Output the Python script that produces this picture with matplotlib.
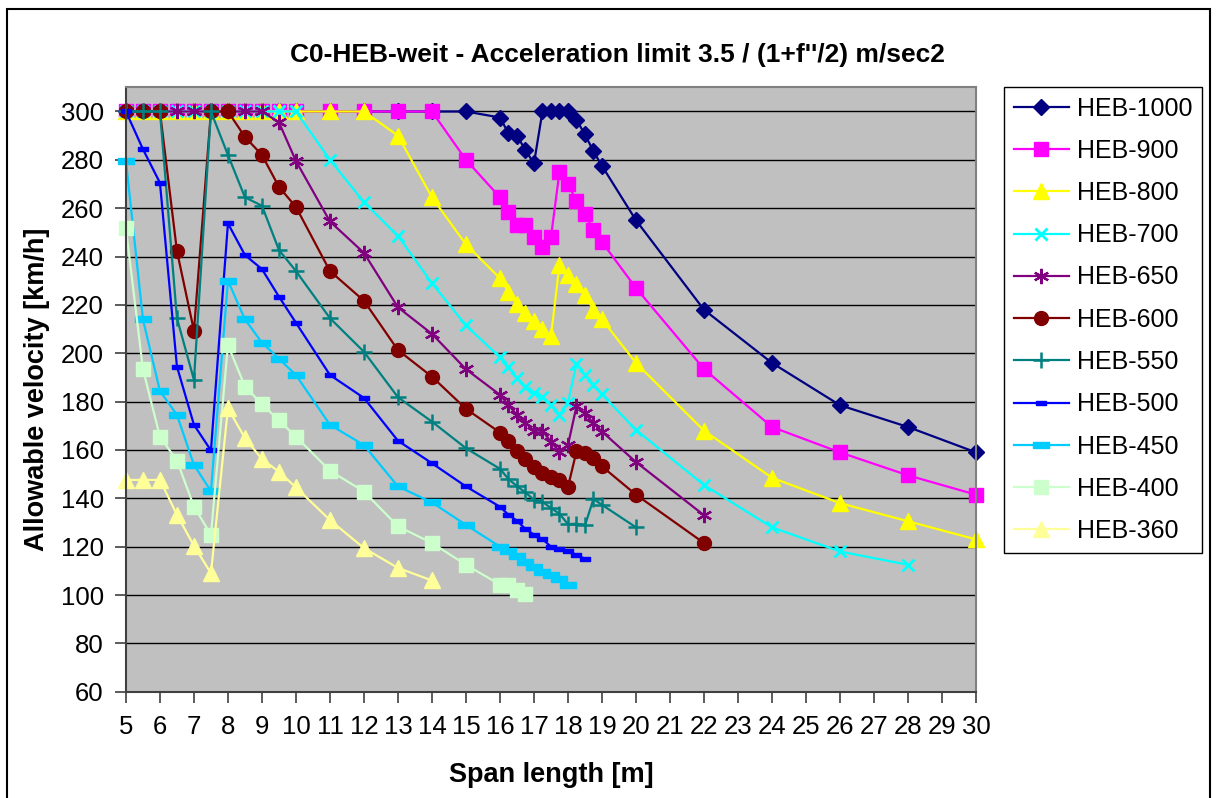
import matplotlib
matplotlib.use("Agg")
import matplotlib.pyplot as plt
from matplotlib.patches import Rectangle

plt.rcParams['font.family'] = ['Liberation Sans', 'DejaVu Sans']

# span lengths [m]
x_top = [5, 5.5, 6, 6.5, 7, 7.5, 8, 8.5, 9, 9.5, 10, 11, 12, 13, 14, 15]
x_fine = [16, 16.25, 16.5, 16.75, 17, 17.25, 17.5, 17.75, 18, 18.25, 18.5, 18.75, 19]
x_tail = [20, 22, 24, 26, 28, 30]

# allowable velocity [km/h] per profile
v_1000 = [300, 300, 300, 300, 300, 300, 300, 300, 300, 300, 300, 300, 300, 300, 300, 300,
          297.5, 291, 290, 284, 278.5, 300, 300, 300, 300, 296.5, 290.5, 283.5, 277.5,
          255, 218, 196, 178.5, 169.5, 159]
v_900 = [300, 300, 300, 300, 300, 300, 300, 300, 300, 300, 300, 300, 300, 300, 300, 280,
         264.5, 258.5, 253, 253, 248, 244, 248, 275, 270, 263, 257.5, 251, 246,
         227, 193.5, 169.5, 159, 149.5, 141.5]
v_800 = [300, 300, 300, 300, 300, 300, 300, 300, 300, 300, 300, 300, 300, 290, 264.5, 245,
         231, 225.5, 220.5, 216.5, 213.5, 210, 207, 236.5, 232.5, 228.5, 224, 218, 214,
         196, 168, 148.5, 138, 130.5, 123]
v_700 = [300, 300, 300, 300, 300, 300, 300, 300, 300, 300, 300, 280, 262.5, 248.5, 229, 211.5,
         198.3, 194.2, 189.7, 186.2, 183.7, 182, 178.6, 174.5, 179.6, 195.6, 191, 187, 183,
         168.3, 145.5, 128, 118, 112.5]
v_650 = [300, 300, 300, 300, 300, 300, 300, 300, 300, 295.5, 279.5, 254.5, 241.5, 219, 208, 193.4,
         182.8, 178.6, 174.5, 171.2, 168, 168, 163.3, 159.3, 162, 178, 175.2, 171, 167.6,
         155, 133]
v_600 = [300, 300, 300, 242.3, 209.3, 300, 300, 289.5, 282, 268.8, 260.5, 234, 221.7, 201.3, 190.3, 177,
         167.2, 163.7, 159.7, 156.3, 153, 150.6, 149, 147.5, 144.7, 159.4, 158.9, 156.8, 153.2,
         141.5, 121.5]
v_550 = [300, 300, 300, 214.5, 189, 300, 282, 264.5, 261, 242.7, 234, 214.5, 200.6, 181.8, 171.7, 160.7,
         152.2, 148, 145, 142.4, 139.4, 138.5, 136, 133.6, 129.3, 129.5, 128.8, 139.7, 137.3,
         128]
v_500 = [300, 284.4, 270.5, 194.5, 170.4, 159.8, 253.7, 240.6, 234.8, 223.4, 212.6, 191, 181.5, 163.8, 154.5, 144.9,
         136.5, 133.2, 130.7, 127.3, 125, 123.1, 120, 119, 118.2, 116.6, 115]
v_450 = [279.6, 214, 184.4, 174.5, 153.8, 143, 230, 214, 204.4, 197.7, 191, 170.4, 162, 144.9, 138.3, 129,
         120, 118.2, 116, 113.6, 111.6, 109.5, 108.2, 106.7, 104.3]
v_400 = [251.6, 193.4, 165.5, 155.6, 136.6, 124.9, 203.4, 186.2, 179, 172.2, 165.5, 151.4, 142.8, 128.4, 121.5, 112.5,
         104.3, 104.3, 102.2, 100.3]
v_360 = [147.6, 147.6, 147.6, 133.2, 120.4, 109, 177.3, 164.9, 156.2, 151, 144.5, 131, 119.4, 111.2, 106]

names = ['HEB-1000', 'HEB-900', 'HEB-800', 'HEB-700', 'HEB-650', 'HEB-600',
         'HEB-550', 'HEB-500', 'HEB-450', 'HEB-400', 'HEB-360']
values = [v_1000, v_900, v_800, v_700, v_650, v_600, v_550, v_500, v_450, v_400, v_360]
colors = ['#000080', '#FF00FF', '#FFFF00', '#00FFFF', '#800080', '#800000',
          '#008080', '#0000FF', '#00CCFF', '#CCFFCC', '#FFFF99']

# excel-like "dash" markers: flat bars
dash_short = [(-1, -0.55), (1, -0.55), (1, 0.55), (-1, 0.55), (-1, -0.55)]
dash_long = [(-1, -0.33), (1, -0.33), (1, 0.33), (-1, 0.33), (-1, -0.33)]
styles = [
    dict(marker='D', ms=8),
    dict(marker='s', ms=10),
    dict(marker='^', ms=11),
    dict(marker='x', ms=9, mew=2),
    dict(marker=(6, 2, 0), ms=11, mew=1.6),
    dict(marker='o', ms=10),
    dict(marker='+', ms=11, mew=1.8),
    dict(marker=dash_short, ms=6.5),
    dict(marker=dash_long, ms=11),
    dict(marker='s', ms=10),
    dict(marker='^', ms=11),
]

all_x = x_top + x_fine + x_tail

fig = plt.figure(figsize=(12.18, 7.98), dpi=100)
ax = fig.add_axes([0.1034, 0.1332, 0.8013 - 0.1034, 0.8906 - 0.1332])
ax.set_facecolor('#C0C0C0')

for name, v, c, st in zip(names, values, colors, styles):
    ax.plot(all_x[:len(v)], v, color=c, lw=1.6, mfc=c, mec=c, label=name,
            clip_on=False, **st)

ax.set_xlim(5, 30)
ax.set_ylim(60, 310)
ax.set_xticks(range(5, 31))
ax.set_yticks(range(60, 301, 20))
ax.yaxis.grid(True, color='black', lw=1)
ax.set_axisbelow(True)
ax.tick_params(labelsize=18.5, length=8, width=1.2, color='#404040')
ax.tick_params(axis='x', pad=9)
ax.tick_params(axis='y', pad=8)
for s in ['left', 'bottom']:
    ax.spines[s].set_color('#404040')
    ax.spines[s].set_linewidth(1.5)
for s in ['top', 'right']:
    ax.spines[s].set_color('#808080')
    ax.spines[s].set_linewidth(1.5)

ax.set_xlabel('Span length [m]', fontsize=19.5, fontweight='bold', va='center')
ax.xaxis.set_label_coords(0.5, -0.138)
ax.set_ylabel('Allowable velocity [km/h]', fontsize=19.5, fontweight='bold', va='center')
ax.yaxis.set_label_coords(-0.1047, 0.5)
fig.text(0.507, 0.931, "C0-HEB-weit - Acceleration limit 3.5 / (1+f''/2) m/sec2",
         ha='center', va='center', fontsize=19, fontweight='bold')

leg = ax.legend(loc='upper left', bbox_to_anchor=(1004 / 1218, 1 - 87 / 798),
                bbox_transform=fig.transFigure, borderaxespad=0, fontsize=18,
                handlelength=2.2, handletextpad=0.35, labelspacing=0.73, borderpad=0.38,
                fancybox=False, edgecolor='black', framealpha=1)
leg.get_frame().set_linewidth(1)

fig.patches.append(Rectangle((7 / 1218, -5 / 798), 1203 / 1218, 794 / 798, fill=False,
                             edgecolor='black', lw=1.5, transform=fig.transFigure, figure=fig))

fig.savefig('out.png', dpi=100)
